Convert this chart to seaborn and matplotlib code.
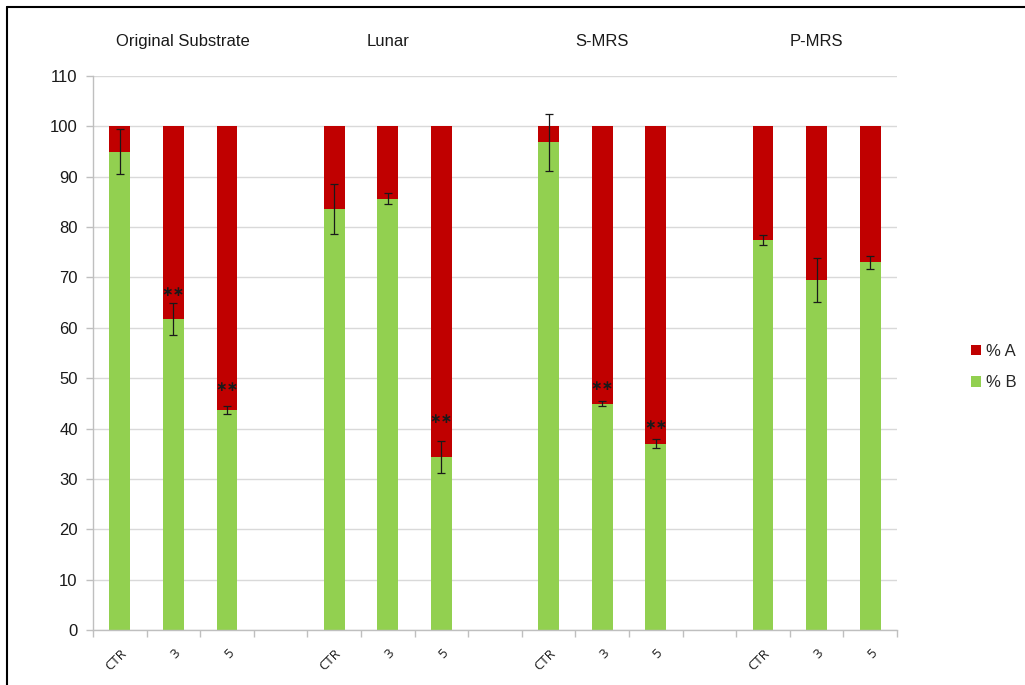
import matplotlib
matplotlib.use("Agg")
import matplotlib.pyplot as plt
from matplotlib.patches import Patch
from matplotlib.lines import Line2D
from matplotlib.transforms import blended_transform_factory
import seaborn as sns
import pandas as pd

# ---- data ----
groups = ["Original Substrate", "Lunar", "S-MRS", "P-MRS"]
conditions = ["CTR", "3", "5"]
pct_b = [95.0, 61.8, 43.6, 83.6, 85.6, 34.4, 96.8, 44.9, 37.0, 77.4, 69.5, 73.0]
pct_a = [5.0, 38.2, 56.4, 16.4, 14.4, 65.6, 3.2, 55.1, 63.0, 22.6, 30.5, 27.0]
err_b = [4.5, 3.2, 0.8, 4.9, 1.1, 3.2, 5.6, 0.5, 0.95, 1.05, 4.4, 1.35]
star_labels = ["", "∗∗", "∗∗", "", "", "∗∗", "", "∗∗", "∗∗", "", "", ""]
star_y = [0, 67.1, 48.3, 0, 0, 41.8, 0, 48.5, 40.8, 0, 0, 0]
y_ticks = list(range(0, 111, 10))

RED = "#C00000"
GREEN = "#92D050"

sns.set_theme(style="white")
plt.rcParams["font.family"] = ["Liberation Sans", "DejaVu Sans"]

# build table
rows = []
i = 0
for g in groups:
    for c in conditions:
        rows.append({"slot": f"{g}|{c}", "group": g, "cond": c,
                     "B": pct_b[i], "A": pct_a[i], "total": pct_a[i] + pct_b[i],
                     "err": err_b[i], "star": star_labels[i], "star_y": star_y[i]})
        i += 1
df = pd.DataFrame(rows)

order = []
tick_labels = []
for gi, g in enumerate(groups):
    for c in conditions:
        order.append(f"{g}|{c}")
        tick_labels.append(c)
    if gi < len(groups) - 1:
        order.append(f"gap{gi}")
        tick_labels.append("")

fig = plt.figure(figsize=(10.25, 6.85), dpi=100)
ax = fig.add_axes([93 / 1025, 55 / 685, (897 - 93) / 1025, (630 - 76) / 685])

sns.barplot(data=df, x="slot", y="total", order=order, color=RED, saturation=1,
            width=0.39, linewidth=0, ax=ax, errorbar=None)
sns.barplot(data=df, x="slot", y="B", order=order, color=GREEN, saturation=1,
            width=0.39, linewidth=0, ax=ax, errorbar=None)

pos = [order.index(s) for s in df["slot"]]
ax.errorbar(pos, df["B"], yerr=df["err"], fmt="none", ecolor="#1a1a1a",
            elinewidth=0.9, capsize=3, capthick=0.9, zorder=5)

for p, s, sy in zip(pos, df["star"], df["star_y"]):
    if s:
        ax.text(p, sy, s, ha="center", va="center", fontsize=10,
                fontweight="bold", color="#1a1a1a", zorder=6,
                family=["DejaVu Sans"])

# group titles
trans = blended_transform_factory(ax.transData, ax.transAxes)
for gi, g in enumerate(groups):
    mid = order.index(f"{g}|{conditions[1]}")
    dx = 0.18 if gi == 0 else 0.0
    ax.text(mid + dx, 1.063, g, transform=trans, ha="center", va="center",
            fontsize=12, color="#1a1a1a")

ax.set_xlim(-0.5, len(order) - 0.5)
ax.set_ylim(0, 110)
ax.set_yticks(y_ticks)
ax.set_yticklabels([str(v) for v in y_ticks], fontsize=12, color="#1a1a1a")
ax.yaxis.grid(True, color="#D9D9D9", linewidth=1)
ax.set_axisbelow(True)

# x ticks: tick marks at slot boundaries, labels at slot centers
ax.set_xticks([k - 0.5 for k in range(len(order) + 1)])
ax.set_xticklabels([])
ax.set_xticks(range(len(order)), minor=True)
ax.set_xticklabels(tick_labels, minor=True, rotation=45, ha="right",
                   rotation_mode="anchor", fontsize=9.5, color="#1a1a1a",
                   family=["Open Sans", "DejaVu Sans"])
ax.tick_params(axis="x", which="major", length=5, color="#BFBFBF", width=1,
               direction="out", bottom=True)
ax.tick_params(axis="x", which="minor", length=0, pad=12, bottom=True)
ax.tick_params(axis="y", length=5, color="#BFBFBF", width=1, direction="out",
               left=True, pad=6)
ax.set_xlabel("")
ax.set_ylabel("")

for side in ["top", "right"]:
    ax.spines[side].set_visible(False)
for side in ["left", "bottom"]:
    ax.spines[side].set_visible(True)
    ax.spines[side].set_color("#BFBFBF")
    ax.spines[side].set_linewidth(1)

handles = [Patch(facecolor=RED, edgecolor="none", label="% A"),
           Patch(facecolor=GREEN, edgecolor="none", label="% B")]
fig.legend(handles=handles, loc="center left", bbox_to_anchor=(971 / 1025, 1 - 367 / 685),
           frameon=False, fontsize=12, handlelength=0.6, handleheight=0.6,
           handletextpad=0.3, labelspacing=1.0, borderpad=0, borderaxespad=0)

# figure border (top and left)
fig.add_artist(Line2D([7 / 1025, 1.0], [1 - 7 / 685, 1 - 7 / 685], color="black", linewidth=1.5))
fig.add_artist(Line2D([7 / 1025, 7 / 1025], [0, 1 - 7 / 685], color="black", linewidth=1.5))

fig.savefig("out.png", dpi=100)
